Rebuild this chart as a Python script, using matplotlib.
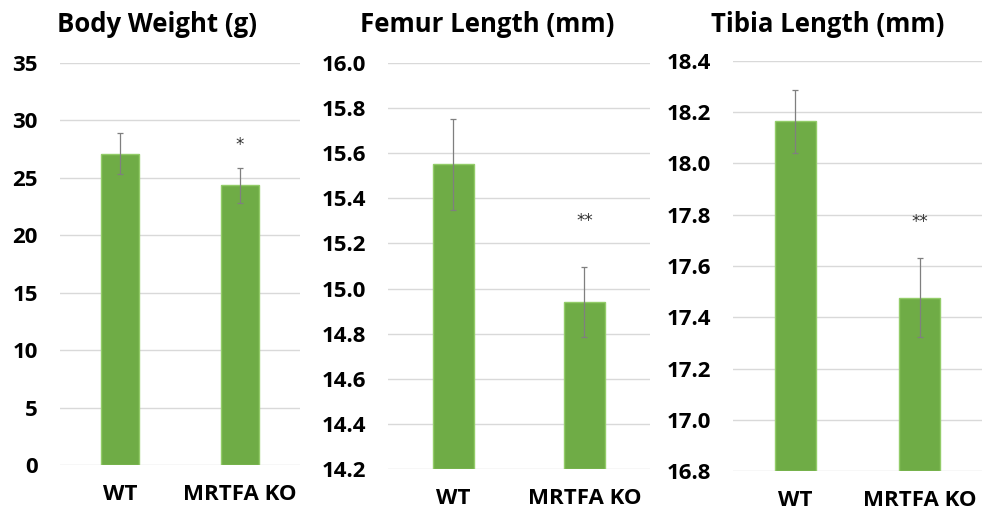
import matplotlib
matplotlib.use("Agg")
import matplotlib.pyplot as plt

plt.rcParams['font.family'] = ['Open Sans', 'DejaVu Sans']

groups = ["WT", "MRTFA KO"]

titles = ["Body Weight (g)", "Femur Length (mm)", "Tibia Length (mm)"]

bw_mean = [27.1, 24.35]
bw_sd = [1.8, 1.5]
femur_mean = [15.55, 14.94]
femur_sd = [0.2, 0.155]
tibia_mean = [18.165, 17.476]
tibia_sd = [0.123, 0.155]

sig_labels = [["", "*"], ["", "**"], ["", "**"]]
sig_y = [[None, 27.9], [None, 15.30], [None, 17.77]]

ylims = [(0, 35), (14.2, 16.0), (16.8, 18.4)]
yticks = [[0, 5, 10, 15, 20, 25, 30, 35],
          [14.2, 14.4, 14.6, 14.8, 15.0, 15.2, 15.4, 15.6, 15.8, 16.0],
          [16.8, 17.0, 17.2, 17.4, 17.6, 17.8, 18.0, 18.2, 18.4]]
ytick_fmt = ["{:.0f}", "{:.1f}", "{:.1f}"]

means = [bw_mean, femur_mean, tibia_mean]
sds = [bw_sd, femur_sd, tibia_sd]

# axes rectangles in figure fractions (left, bottom, width, height)
rects = [(0.0611, 0.0971, 0.2444, 0.7806),
         (0.3951, 0.0893, 0.2668, 0.7884),
         (0.7464, 0.0854, 0.2536, 0.7962)]
bar_widths = [0.31, 0.31, 0.33]
title_x = [157 / 982, 487 / 982, 828 / 982]
title_y = 1 - 24 / 515

fig = plt.figure(figsize=(9.82, 5.15), dpi=100)

for i in range(3):
    ax = fig.add_axes(rects[i])
    x = list(range(len(groups)))
    lo = ylims[i][0]
    heights = [m - lo for m in means[i]]
    ax.bar(x, heights, bottom=lo, width=bar_widths[i], color='#6FAC46',
           edgecolor='#93CC69', linewidth=1.0, zorder=3)
    ax.errorbar(x, means[i], yerr=sds[i], fmt='none', ecolor='#7F7F7F',
                elinewidth=0.9, capsize=2.5, capthick=0.9, zorder=4)
    for j in range(len(groups)):
        if sig_labels[i][j]:
            ax.text(x[j], sig_y[i][j], sig_labels[i][j], ha='center', va='center',
                    fontsize=12, color='#303030', family='DejaVu Sans')
    ax.set_xlim(-0.5, 1.5)
    ax.set_ylim(*ylims[i])
    ax.set_yticks(yticks[i])
    ax.set_yticklabels([ytick_fmt[i].format(v) for v in yticks[i]],
                       fontsize=16, fontweight='bold')
    ax.set_xticks(x)
    ax.set_xticklabels(groups, fontsize=16, fontweight='bold')
    ax.tick_params(axis='y', length=0, pad=16)
    ax.tick_params(axis='x', length=0, pad=14)
    ax.grid(axis='y', color='#D9D9D9', linewidth=1.0, zorder=0)
    ax.set_axisbelow(True)
    for s in ax.spines.values():
        s.set_visible(False)
    fig.text(title_x[i], title_y, titles[i], fontsize=18.5, fontweight='bold',
             ha='center', va='center')

fig.savefig("out.png", dpi=100)
